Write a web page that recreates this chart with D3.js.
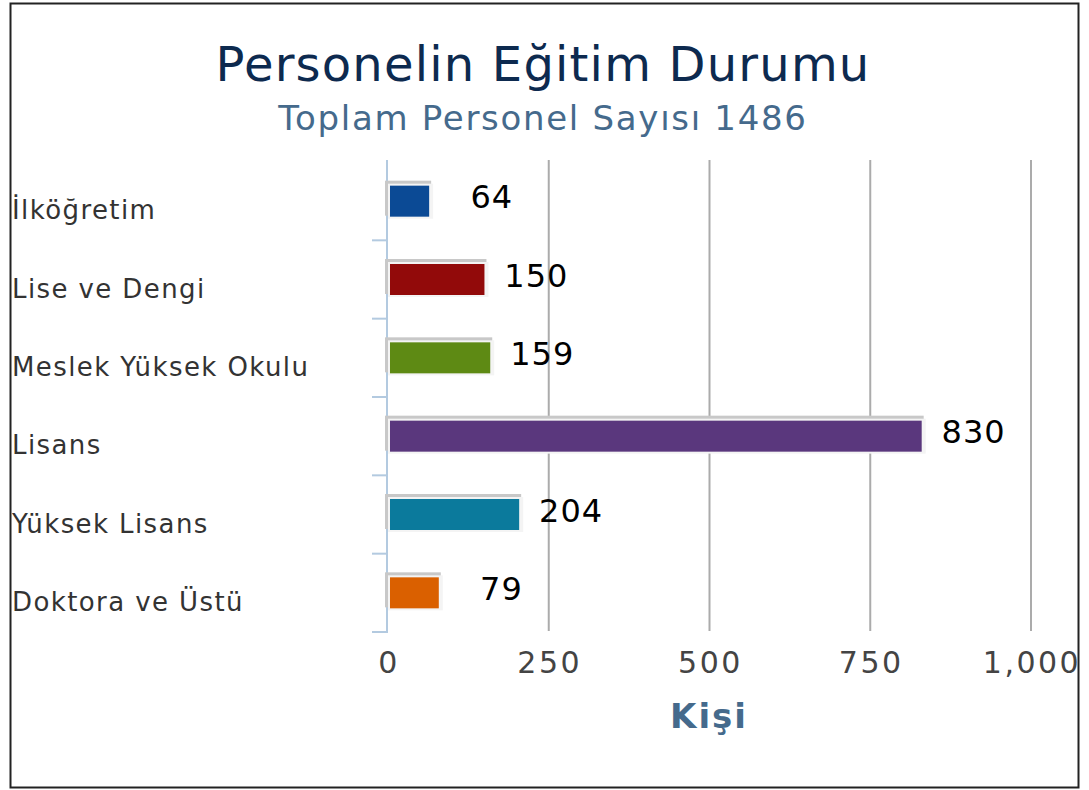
<!DOCTYPE html>
<html>
<head>
<meta charset="utf-8">
<script src="https://cdn.jsdelivr.net/npm/d3@7"></script>
<style>
  body { margin: 0; background: #fff; }
  text { font-family: "DejaVu Sans", sans-serif; }
</style>
</head>
<body>
<div id="chart"></div>
<script>
// veriler
const kategoriler = ["İlköğretim", "Lise ve Dengi", "Meslek Yüksek Okulu", "Lisans", "Yüksek Lisans", "Doktora ve Üstü"];
const kisiSayisi = [64, 150, 159, 830, 204, 79];
const renkler = ["#0b4a95", "#920a0a", "#5e8a14", "#5a377d", "#0b7a9c", "#da6000"];
const xTicks = [0, 250, 500, 750, 1000];

const W = 1089, H = 790;
const svg = d3.select("#chart").append("svg")
  .attr("width", W).attr("height", H);

// cerceve
svg.append("rect")
  .attr("x", 10.5).attr("y", 3.5)
  .attr("width", 1068).attr("height", 784)
  .attr("fill", "#fff").attr("stroke", "#222").attr("stroke-width", 2);

svg.append("text")
  .attr("x", 543).attr("y", 81)
  .attr("text-anchor", "middle")
  .style("font-size", "48px").style("letter-spacing", "1.2px").attr("fill", "#0d2a4f")
  .text("Personelin Eğitim Durumu");

svg.append("text")
  .attr("x", 543).attr("y", 130)
  .attr("text-anchor", "middle")
  .style("font-size", "34px").style("letter-spacing", "1.7px").attr("fill", "#456a8c")
  .text("Toplam Personel Sayısı 1486");

const x = d3.scaleLinear().domain([0, 1000]).range([388, 1031]);
const y = d3.scaleBand().domain(kategoriler).range([162, 632]).paddingInner(0).paddingOuter(0);
const barH = 31;

// grid
svg.selectAll(".grid")
  .data(xTicks.slice(1))
  .enter().append("line")
  .attr("x1", d => x(d)).attr("x2", d => x(d))
  .attr("y1", 160).attr("y2", 631)
  .attr("stroke", "#ababab").attr("stroke-width", 2);

// sol eksen
svg.append("line")
  .attr("x1", 387).attr("x2", 387).attr("y1", 160).attr("y2", 633)
  .attr("stroke", "#b3cae0").attr("stroke-width", 2);
svg.selectAll(".ytick")
  .data(kategoriler)
  .enter().append("line")
  .attr("x1", 372).attr("x2", 387)
  .attr("y1", d => y(d) + y.bandwidth()).attr("y2", d => y(d) + y.bandwidth())
  .attr("stroke", "#b3cae0").attr("stroke-width", 2);

const data = kategoriler.map((k, i) => ({ k, v: kisiSayisi[i], c: renkler[i] }));

// golge
svg.selectAll(".shadow")
  .data(data)
  .enter().append("rect")
  .attr("x", 385)
  .attr("y", d => y(d.k) + y.bandwidth() / 2 - barH / 2 - 5)
  .attr("width", d => x(d.v) - 385 + 2)
  .attr("height", barH + 4)
  .attr("fill", "#c8c8c8");
svg.selectAll(".shadow2")
  .data(data)
  .enter().append("rect")
  .attr("x", 388)
  .attr("y", d => y(d.k) + y.bandwidth() / 2 - barH / 2 - 2)
  .attr("width", d => x(d.v) - 388 + 4)
  .attr("height", barH + 4)
  .attr("fill", "#f4f4f4");

svg.selectAll(".bar")
  .data(data)
  .enter().append("rect")
  .attr("x", 390)
  .attr("y", d => y(d.k) + y.bandwidth() / 2 - barH / 2)
  .attr("width", d => x(d.v) - 390)
  .attr("height", barH)
  .attr("fill", d => d.c);

svg.selectAll(".val")
  .data(data)
  .enter().append("text")
  .attr("x", d => x(d.v) + 84)
  .attr("y", d => y(d.k) + y.bandwidth() / 2 + 7)
  .attr("text-anchor", "end")
  .style("font-size", "32px").style("letter-spacing", "1px").attr("fill", "#000")
  .text(d => d.v);

svg.selectAll(".cat")
  .data(kategoriler)
  .enter().append("text")
  .attr("x", 12)
  .attr("y", d => y(d) + y.bandwidth() / 2 + 18)
  .style("font-size", "26px").style("letter-spacing", "1.4px").attr("fill", "#333")
  .text(d => d);

svg.selectAll(".xlab")
  .data(xTicks)
  .enter().append("text")
  .attr("x", d => x(d) + 1)
  .attr("y", 673)
  .attr("text-anchor", "middle")
  .style("font-size", "30px").style("letter-spacing", "2.5px").attr("fill", "#444")
  .text(d => d3.format(",")(d));

svg.append("text")
  .attr("x", 709).attr("y", 728)
  .attr("text-anchor", "middle")
  .style("font-size", "34px").style("font-weight", "bold").style("letter-spacing", "2px").attr("fill", "#456a8c")
  .text("Kişi");
</script>
</body>
</html>
